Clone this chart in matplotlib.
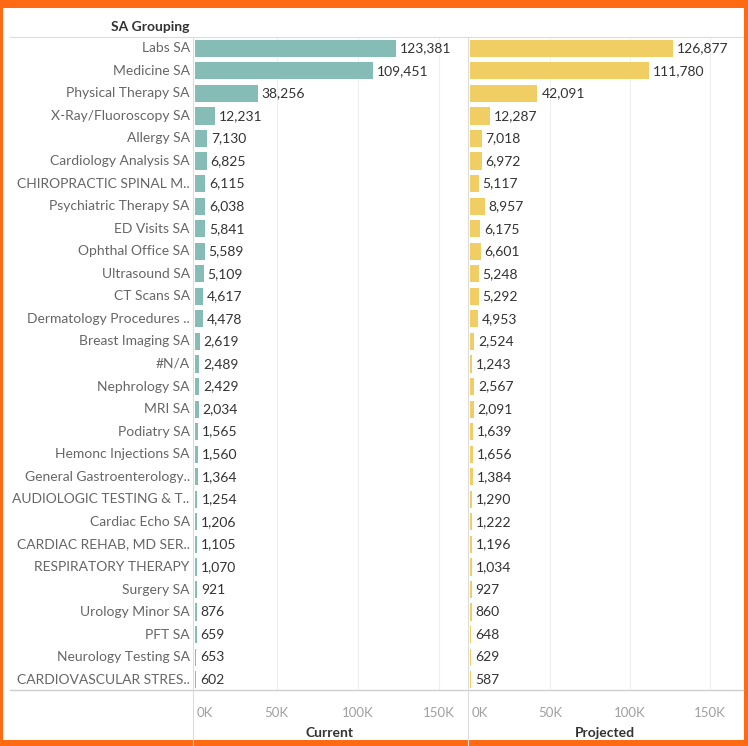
import matplotlib.pyplot as plt
from matplotlib.patches import Rectangle
from matplotlib.lines import Line2D

plt.rcParams['font.family'] = ['Lato', 'DejaVu Sans']

# data
groups = ["Labs SA", "Medicine SA", "Physical Therapy SA", "X-Ray/Fluoroscopy SA",
          "Allergy SA", "Cardiology Analysis SA", "CHIROPRACTIC SPINAL M..",
          "Psychiatric Therapy SA", "ED Visits SA", "Ophthal Office SA",
          "Ultrasound SA", "CT Scans SA", "Dermatology Procedures ..",
          "Breast Imaging SA", "#N/A", "Nephrology SA", "MRI SA", "Podiatry SA",
          "Hemonc Injections SA", "General Gastroenterology..",
          "AUDIOLOGIC TESTING & T..", "Cardiac Echo SA", "CARDIAC REHAB, MD SER..",
          "RESPIRATORY THERAPY", "Surgery SA", "Urology Minor SA", "PFT SA",
          "Neurology Testing SA", "CARDIOVASCULAR STRES.."]
current = [123381, 109451, 38256, 12231, 7130, 6825, 6115, 6038, 5841, 5589,
           5109, 4617, 4478, 2619, 2489, 2429, 2034, 1565, 1560, 1364, 1254,
           1206, 1105, 1070, 921, 876, 659, 653, 602]
projected = [126877, 111780, 42091, 12287, 7018, 6972, 5117, 8957, 6175, 6601,
             5248, 5292, 4953, 2524, 1243, 2567, 2091, 1639, 1656, 1384, 1290,
             1222, 1196, 1034, 927, 860, 648, 629, 587]
ticks = [0, 50000, 100000, 150000]
tick_labels = ["0K", "50K", "100K", "150K"]

W, H = 748, 746
fig = plt.figure(figsize=(W / 100, H / 100), dpi=100)

def fx(px):
    return px / W

def fy(py):
    return 1 - py / H

top, bottom = 37, 691
panels = [(193, current, "#86bcb6", "Current", 168000),
          (468, projected, "#f1ce63", "Projected", 171000)]
axes = []
for left, vals, col, title, xmax in panels:
    ax = fig.add_axes([fx(left), fy(bottom), 275 / W, (bottom - top) / H])
    y = list(range(len(groups)))
    ax.barh(y, vals, height=0.76, color=col, zorder=2)
    for yi, v in zip(y, vals):
        ax.text(v + 2400, yi, f"{v:,}", va='center', ha='left', fontsize=10,
                color='#333333', zorder=3)
    ax.set_xlim(-1500, xmax)
    ax.set_ylim(len(groups) - 0.5, -0.5)
    ax.set_yticks([])
    ax.set_xticks([])
    for s in ax.spines.values():
        s.set_visible(False)
    for t in ticks[1:]:
        ax.axvline(t, color='#efefef', lw=0.8, zorder=1)
    # tick labels below the axis
    for t, lab in zip(ticks, tick_labels):
        ax.text(t if t else 800, -0.025, lab, transform=ax.get_xaxis_transform(),
                ha='left' if t == 0 else 'center', va='top', fontsize=9.5,
                color='#a0a0a0')
    fig.text(fx(left + 137), fy(733), title, ha='center', va='center',
             fontsize=10, color='#333333', fontweight='bold')
    axes.append(ax)

# row labels
ax0 = axes[0]
for i, g in enumerate(groups):
    ax0.text(-0.012, i, g, transform=ax0.get_yaxis_transform(), ha='right',
             va='center', fontsize=10, color='#666666')

fig.text(fx(189), fy(27), "SA Grouping", ha='right', va='center', fontsize=10,
         color='#333333', fontweight='bold')

# separators
lc = '#dcdcdc'
fig.add_artist(Line2D([fx(10), fx(743)], [fy(37), fy(37)], color=lc, lw=0.8))
fig.add_artist(Line2D([fx(10), fx(743)], [fy(690), fy(690)], color='#cfcfcf', lw=1.0))
for xp in (193, 468):
    fig.add_artist(Line2D([fx(xp), fx(xp)], [fy(37), fy(746)], color=lc, lw=0.8))

# orange frame (thicker at top)
orange = '#ff6a13'
for x0, y0, w, h in [(0, 0, W, 8), (0, 0, 3, H), (W - 4, 0, 4, H), (0, H - 6, W, 6)]:
    fig.add_artist(Rectangle((fx(x0), fy(y0 + h)), w / W, h / H,
                             transform=fig.transFigure, color=orange, lw=0))

fig.savefig("out.png", dpi=100)
